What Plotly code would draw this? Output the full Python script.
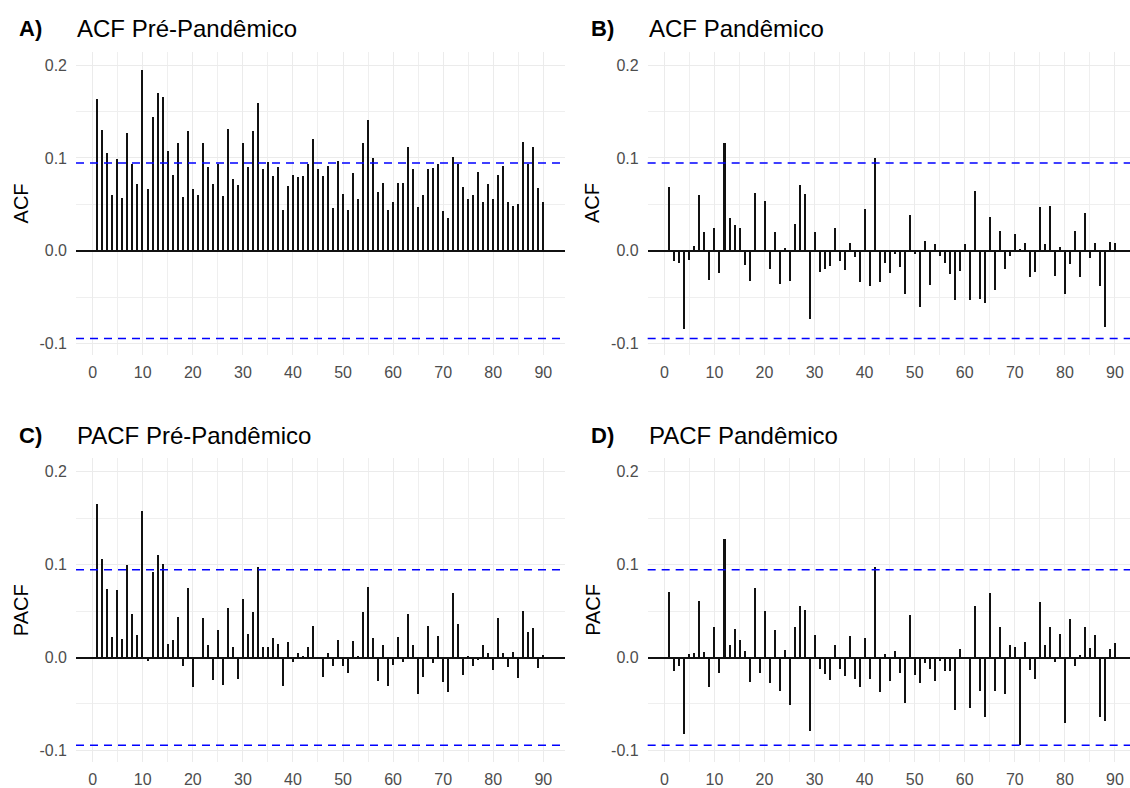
import plotly.graph_objects as go

# ---------------- data ----------------
lags = list(range(1, 91))

acf_pre = [0.164, 0.130, 0.106, 0.060, 0.099, 0.057, 0.127, 0.094, 0.072, 0.195,
           0.067, 0.145, 0.170, 0.166, 0.108, 0.082, 0.117, 0.058, 0.129, 0.067,
           0.061, 0.116, 0.091, 0.072, 0.094, 0.059, 0.132, 0.078, 0.071, 0.116,
           0.091, 0.129, 0.160, 0.089, 0.096, 0.081, 0.091, 0.044, 0.070, 0.082,
           0.080, 0.081, 0.094, 0.121, 0.089, 0.081, 0.092, 0.047, 0.097, 0.062,
           0.044, 0.084, 0.056, 0.117, 0.141, 0.100, 0.064, 0.073, 0.044, 0.053,
           0.073, 0.073, 0.112, 0.089, 0.048, 0.061, 0.089, 0.090, 0.094, 0.043,
           0.036, 0.101, 0.094, 0.069, 0.056, 0.060, 0.085, 0.053, 0.072, 0.056,
           0.082, 0.092, 0.053, 0.049, 0.051, 0.118, 0.094, 0.112, 0.068, 0.053]

acf_pan = [0.069, -0.011, -0.013, -0.084, -0.009, 0.006, 0.061, 0.021, -0.031, 0.025,
           -0.023, 0.117, 0.036, 0.028, 0.025, -0.015, -0.032, 0.063, 0.001, 0.054,
           -0.019, 0.021, -0.035, 0.003, -0.032, 0.029, 0.071, 0.062, -0.073, 0.021,
           -0.022, -0.019, -0.016, 0.025, -0.011, -0.020, 0.009, -0.006, -0.033, 0.045,
           -0.037, 0.100, -0.033, -0.013, -0.023, -0.003, -0.017, -0.046, 0.039, -0.003,
           -0.060, 0.011, -0.036, 0.008, -0.005, -0.013, -0.025, -0.053, -0.021, 0.008,
           -0.053, 0.065, -0.051, -0.056, 0.037, -0.042, 0.022, -0.019, -0.005, 0.019,
           0.002, 0.009, -0.028, -0.022, 0.048, 0.008, 0.049, -0.027, 0.004, -0.046,
           -0.014, 0.022, -0.028, 0.041, -0.007, 0.009, -0.037, -0.082, 0.010, 0.009]

pacf_pre = [0.165, 0.106, 0.073, 0.022, 0.072, 0.020, 0.099, 0.046, 0.024, 0.157,
            -0.004, 0.092, 0.110, 0.100, 0.014, 0.019, 0.043, -0.010, 0.075, -0.032,
            -0.002, 0.042, 0.013, -0.025, 0.029, -0.030, 0.053, 0.011, -0.023, 0.063,
            0.025, 0.049, 0.097, 0.011, 0.011, 0.021, 0.014, -0.031, 0.016, -0.005,
            0.004, 0.001, 0.011, 0.034, -0.001, -0.021, 0.004, -0.010, 0.019, -0.010,
            -0.017, 0.017, 0.001, 0.049, 0.076, 0.021, -0.026, 0.013, -0.031, -0.008,
            0.022, -0.005, 0.046, 0.013, -0.040, -0.021, 0.034, -0.006, 0.023, -0.027,
            -0.038, 0.069, 0.036, -0.019, 0.001, -0.010, -0.003, 0.013, 0.004, -0.014,
            0.042, 0.005, -0.011, 0.006, -0.022, 0.050, 0.027, 0.031, -0.012, 0.002]

pacf_pan = [0.070, -0.015, -0.010, -0.083, 0.003, 0.005, 0.060, 0.006, -0.032, 0.032,
            -0.017, 0.127, 0.013, 0.030, 0.019, 0.007, -0.027, 0.075, -0.017, 0.050,
            -0.028, 0.029, -0.036, 0.008, -0.052, 0.032, 0.055, 0.051, -0.079, 0.024,
            -0.013, -0.018, -0.025, 0.013, -0.013, -0.020, 0.023, -0.023, -0.032, 0.021,
            -0.024, 0.097, -0.037, 0.003, -0.026, 0.007, -0.017, -0.049, 0.045, -0.019,
            -0.028, -0.006, -0.013, -0.026, -0.004, -0.015, -0.015, -0.057, 0.009, -0.001,
            -0.055, 0.055, -0.036, -0.064, 0.069, -0.036, 0.033, -0.040, 0.013, 0.011,
            -0.095, 0.016, -0.014, -0.024, 0.059, 0.013, 0.032, -0.005, 0.025, -0.071,
            0.041, -0.010, 0.002, 0.033, 0.010, 0.024, -0.064, -0.069, 0.009, 0.015]

ci_bound = 0.0945

panel_titles = ["ACF Pré-Pandêmico", "ACF Pandêmico", "PACF Pré-Pandêmico", "PACF Pandêmico"]
panel_tags = ["A)", "B)", "C)", "D)"]
y_titles = ["ACF", "ACF", "PACF", "PACF"]
y_tick_vals = [-0.1, 0.0, 0.1, 0.2]
y_tick_text = ["-0.1", "0.0", "0.1", "0.2"]
y_minor_vals = [-0.05, 0.05, 0.15]

series = [acf_pre, acf_pan, pacf_pre, pacf_pan]

# ---------------- layout geometry (pixels) ----------------
W, H = 1130, 788
FONT = "Liberation Sans, Arial, Helvetica, sans-serif"
PX_PER_LAG = 5.007
cols = [  # left px, right px, px of lag 0
    (76.0, 565.0, 92.67),
    (647.67, 1130.0, 664.33),
]
rows = [  # top px, bottom px
    (51.8, 356.6),
    (460.1, 764.9),
]
y_range = [-0.1125, 0.2145]


def px_x(p):
    return p / W


def px_y(p):
    return 1 - p / H


fig = go.Figure()
annotations = []
shapes = []

for i, vals in enumerate(series):
    r, c = divmod(i, 2)
    left, right, zero_px = cols[c]
    top, bottom = rows[r]
    n = i + 1
    xa = "x" if n == 1 else f"x{n}"
    ya = "y" if n == 1 else f"y{n}"
    fig.add_trace(go.Bar(
        x=lags, y=vals, width=0.3,
        marker=dict(color="#111111", line=dict(width=0)),
        xaxis=xa, yaxis=ya, showlegend=False, hoverinfo="x+y",
    ))
    xr = [(left - zero_px) / PX_PER_LAG, (right - zero_px) / PX_PER_LAG]
    fig.layout[f"xaxis{'' if n == 1 else n}"] = dict(
        domain=[px_x(left), px_x(right)], range=xr, anchor=ya,
        tickmode="linear", tick0=0, dtick=10,
        showgrid=True, gridcolor="#EBEBEB", gridwidth=1.1,
        minor=dict(tick0=5, dtick=10, showgrid=True, gridcolor="#EFEFEF", gridwidth=0.8),
        zeroline=False, showline=False, ticks="",
        tickfont=dict(family=FONT, size=16, color="#4D4D4D"),
        ticklabelstandoff=6, fixedrange=True,
    )
    fig.layout[f"yaxis{'' if n == 1 else n}"] = dict(
        domain=[px_y(bottom), px_y(top)], range=y_range, anchor=xa,
        tickmode="array", tickvals=y_tick_vals, ticktext=y_tick_text,
        showgrid=True, gridcolor="#EBEBEB", gridwidth=1.1,
        minor=dict(tickmode="array", tickvals=y_minor_vals, showgrid=True,
                   gridcolor="#EFEFEF", gridwidth=0.8),
        zeroline=True, zerolinecolor="#111111", zerolinewidth=1.6,
        showline=False, ticks="",
        tickfont=dict(family=FONT, size=16, color="#4D4D4D"),
        ticklabelstandoff=8, fixedrange=True,
    )
    for yv in (ci_bound, -ci_bound):
        shapes.append(dict(
            type="line", xref=f"{xa} domain", yref=ya, x0=0, x1=1, y0=yv, y1=yv,
            line=dict(color="#0000FF", width=1.6, dash="8px,6px"), layer="above",
        ))
    # tag and title
    annotations.append(dict(
        text=f"<b>{panel_tags[i]}</b>", xref="paper", yref="paper",
        x=px_x(left - 59), y=px_y(top - 23), xanchor="left", yanchor="middle",
        showarrow=False, font=dict(family=FONT, size=22, color="#000000"),
    ))
    annotations.append(dict(
        text=panel_titles[i], xref="paper", yref="paper",
        x=px_x(left - 1), y=px_y(top - 23), xanchor="left", yanchor="middle",
        showarrow=False, font=dict(family=FONT, size=24, color="#000000"),
    ))
    # y axis title
    annotations.append(dict(
        text=y_titles[i], xref="paper", yref="paper",
        x=px_x(left - 55), y=px_y((top + bottom) / 2), xanchor="center", yanchor="middle",
        textangle=-90, showarrow=False, font=dict(family=FONT, size=20, color="#000000"),
    ))

fig.update_layout(
    width=W, height=H, margin=dict(l=0, r=0, t=0, b=0),
    paper_bgcolor="#FFFFFF", plot_bgcolor="#FFFFFF",
    barmode="overlay", bargap=0,
    annotations=annotations, shapes=shapes,
    font=dict(family=FONT),
)

fig.write_html(
    "out.html",
    config={"displayModeBar": False},
    post_script="document.body.style.margin='0';document.body.style.overflow='hidden';",
)
